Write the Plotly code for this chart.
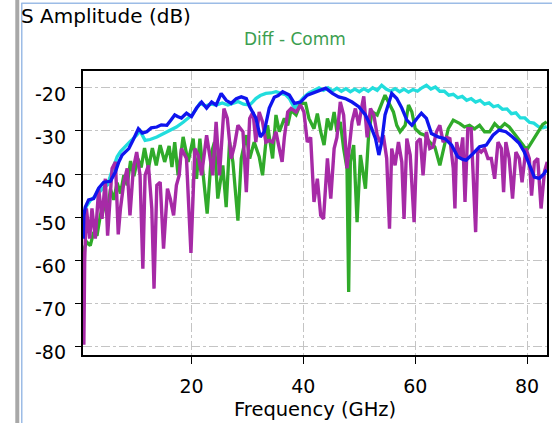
import plotly.graph_objects as go

# ---------------- data ----------------
cyan_f = [0.7, 1.2, 2.0, 3.0, 4.0, 5.0, 5.6, 6.2, 6.7, 7.3, 8.2, 9.0, 10.2, 10.8, 11.7, 12.6,
          13.8, 15.6, 17.3, 18.5, 20.0, 20.8, 21.5, 22.5, 23.5, 24.4, 25.5, 26.5, 27.3, 28.3,
          29.3, 30.4, 31.0, 31.5, 32.3, 33.3, 34.2, 35.1, 36.0, 36.8, 37.5, 38.4, 39.2, 40.0,
          41.0, 42.0, 42.8, 43.6, 44.4, 45.2, 46.0, 46.8, 47.6, 48.4, 49.2, 50.0, 50.8, 51.6,
          52.4, 53.2, 54.0, 54.8, 55.6, 56.4, 57.2, 58.0, 58.8, 59.6, 60.4, 61.2, 62.0, 62.8,
          63.6, 64.4, 65.2, 66.0, 66.8, 67.6, 68.4, 69.2, 70.0, 70.8, 71.6, 72.4, 73.2, 74.0,
          74.8, 75.6, 76.4, 77.2, 78.0, 78.8, 79.6, 80.4, 81.2, 82.0, 82.8, 83.5]
cyan_db = [-50, -47.5, -46, -45, -43.5, -42.5, -40, -37.5, -36, -34.8, -33.5, -32.5, -31, -30,
           -32.2, -32, -31.4, -30.2, -29.1, -28, -26.4, -25, -23.6, -24.2, -23.8, -24, -23.5,
           -24, -23.6, -23.2, -23.8, -24, -23.2, -22.5, -21.8, -21.3, -21.2, -20.9, -21.3,
           -21.6, -22.5, -24.7, -23.5, -22.3, -21.2, -20.5, -20.0, -20.6, -20.0, -20.7, -20.1,
           -20.8, -20.2, -20.9, -20.3, -20.9, -20.2, -20.8, -20.0, -20.6, -19.4, -20.3, -20.8,
           -20.2, -20.9, -20.3, -21.0, -20.4, -20.8, -20.0, -19.4, -20.3, -19.8, -20.8, -20.8,
           -21.7, -21.5, -22.3, -22.0, -22.9, -22.5, -23.3, -22.9, -23.8, -23.5, -24.4, -24.1,
           -25.0, -24.9, -26.0, -25.8, -27.0, -27.0, -28.0, -28.2, -29.0, -29.3, -29.0]

blue_f = [0.65, 0.75, 1.0, 1.6, 2.5, 3.4, 4.3, 5.5, 6.4, 7.0, 7.6, 8.8, 9.6, 10.5, 11.2, 12.0,
          12.8, 13.8, 14.6, 15.6, 16.3, 17.0, 17.6, 18.2, 19.1, 20.0, 20.9, 21.8, 22.7, 23.6,
          24.4, 25.3, 26.2, 27.1, 28.0, 28.9, 29.8, 30.4, 31.5, 32.3, 33.0, 33.9, 34.8, 35.5,
          36.3, 37.5, 38.4, 39.5, 40.7, 42.2, 44.0, 45.2, 46.3, 47.5, 48.7, 49.9, 51.1, 52.0,
          52.9, 53.5, 54.0, 54.6, 55.8, 56.7, 57.6, 58.5, 59.4, 60.3, 61.1, 62.0, 62.9, 64.1,
          65.3, 66.5, 67.6, 68.5, 69.1, 70.3, 71.5, 72.7, 73.9, 75.0, 76.2, 77.4, 78.6, 79.5,
          80.4, 81.3, 82.2, 83.0, 83.5]
blue_db = [-55, -49.6, -47.7, -46, -45.7, -43.3, -41.9, -41.7, -39.5, -37.2, -35.6, -34.1, -32,
           -29.5, -30.5, -30.2, -29.3, -29.1, -28.6, -28.7, -27.5, -26.3, -26.7, -27, -25.9,
           -26.7, -24.7, -23.3, -24.7, -23.3, -24, -21.3, -22.9, -23.6, -22.5, -22.1, -22.5,
           -24.4, -27, -31.4, -30.2, -24.7, -22.2, -21.8, -20.9, -21.7, -23.6, -23.3, -21.7,
           -20.9, -20.1, -21.3, -22.1, -22.5, -23.3, -24.4, -26.3, -28.7, -31.8, -35.6, -32.6,
           -26.3, -21.3, -22.5, -24.7, -27.5, -28.7, -27.1, -25.9, -27.1, -30.6, -31.4, -31.8,
           -33.3, -36, -36.6, -36.8, -35.3, -33.7, -33.3, -31, -29.8, -30.2, -31.4, -32.9,
           -34.9, -38, -40.7, -41, -40, -39]

green_f = [0.65, 0.9, 1.3, 1.9, 2.5, 3.1, 3.7, 4.3, 4.9, 5.5, 6.1, 6.7, 7.3, 7.9, 8.5, 9.1,
           9.7, 10.4, 11.0, 11.6, 12.3, 13.0, 13.7, 14.4, 15.2, 16.0, 16.5, 17.0, 17.6, 18.5,
           19.4, 20.3, 20.9, 21.5, 22.1, 22.8, 23.6, 24.1, 24.7, 25.6, 26.2, 26.8, 27.4, 28.3,
           28.9, 29.8, 30.4, 31.2, 32.1, 32.7, 33.6, 34.2, 34.5, 35.1, 35.7, 36.6, 37.2, 37.8,
           38.7, 39.5, 40.4, 41.0, 41.9, 42.5, 43.1, 43.7, 44.3, 44.9, 45.5, 46.0, 46.6, 47.2,
           47.8, 48.1, 48.4, 49.0, 49.6, 50.2, 50.8, 51.1, 51.7, 52.3, 53.2, 54.0, 54.6, 55.2,
           56.1, 56.7, 57.3, 58.2, 58.8, 59.4, 60.0, 60.9, 61.7, 62.6, 63.5, 64.4, 65.0, 65.9,
           66.8, 68.0, 68.8, 69.7, 70.6, 71.5, 72.4, 73.3, 74.2, 75.1, 76.0, 76.8, 77.7, 78.6,
           79.5, 80.1, 81.0, 81.9, 82.8, 83.5]
green_db = [-62, -57, -55.8, -56.6, -53.5, -54.3, -49.6, -46.5, -49.6, -43.5, -46, -42, -44.5,
            -40.3, -42.6, -37, -40.5, -36.4, -38.5, -34, -38.7, -34, -38, -33.3, -37.2, -33.5,
            -38.4, -32.6, -40.3, -31.4, -37.2, -31.8, -41.1, -31.8, -40.3, -49.2, -34.9, -32.6,
            -45.7, -38, -47.7, -32.6, -37.2, -50.8, -36.4, -31, -36.4, -32.6, -36, -40.3, -28.7,
            -33.3, -36.4, -26.3, -30.2, -27.1, -28.7, -25.2, -26.3, -23.6, -23.6, -27.1, -29.5,
            -26, -30.2, -33.3, -27.1, -29.8, -25.6, -30.2, -27.9, -34.1, -38.7, -67.4, -37.2,
            -33.3, -51.2, -35.6, -40.3, -43.4, -30.2, -25.6, -26.3, -23.6, -21.7, -23.3, -25.6,
            -28.7, -30.2, -28.7, -24, -25.6, -29.5, -30.6, -31, -32.6, -33.7, -38, -34.9, -29.5,
            -27.5, -28.3, -29.1, -28.7, -29.5, -28.7, -30.2, -30.2, -28.3, -29.5, -28.3, -29.1,
            -30.6, -32.2, -33.7, -34.1, -32.2, -30.2, -28.5, -27.9]

magenta_f = [0.65, 0.75, 0.9, 1.2, 1.8, 2.2, 2.8, 3.4, 4.0, 4.6, 5.0, 5.4, 5.8, 6.4, 6.9, 7.3,
             7.9, 8.5, 9.0, 9.6, 10.2, 10.8, 11.3, 11.7, 12.3, 12.9, 13.3, 13.8, 14.4, 15.0,
             15.7, 16.2, 16.8, 17.3, 17.8, 18.2, 19.1, 19.9, 20.6, 21.2, 21.8, 22.7, 23.3, 23.8,
             24.4, 25.0, 25.8, 26.4, 27.1, 27.7, 28.3, 29.2, 29.8, 30.4, 31.0, 31.5, 32.1, 32.7,
             33.3, 33.9, 34.5, 35.1, 35.7, 36.2, 36.6, 37.2, 37.8, 38.7, 39.5, 40.1, 40.7, 41.3,
             41.9, 42.5, 43.1, 43.6, 44.3, 44.9, 45.5, 46.0, 46.6, 47.2, 47.8, 48.7, 49.3, 49.9,
             50.5, 50.8, 51.4, 52.0, 52.6, 53.2, 53.7, 54.3, 54.9, 55.4, 55.8, 56.4, 57.0, 57.6,
             58.0, 58.5, 59.1, 59.8, 60.3, 60.9, 61.4, 62.0, 62.6, 63.2, 63.8, 64.4, 65.0, 65.6,
             66.2, 66.8, 67.1, 67.4, 68.0, 68.5, 68.9, 69.4, 70.0, 70.4, 70.8, 71.2, 71.8, 72.4,
             73.0, 73.6, 74.2, 74.8, 75.4, 75.8, 76.2, 76.8, 77.4, 78.0, 78.6, 79.1, 79.8, 80.4,
             80.8, 81.3, 81.9, 82.5, 83.1, 83.6]
magenta_db = [-58, -79.6, -60, -48, -55, -48, -55, -43.4, -50.4, -41.1, -54.3, -45, -38.7, -37.2,
              -54, -48, -41.9, -38.7, -49.6, -38.7, -34.9, -40.3, -62, -40.3, -38, -48, -66.6,
              -42.6, -41.9, -57.3, -43.4, -45.7, -49.6, -42.6, -40.3, -34.1, -36.4, -58.3, -34.1,
              -35.6, -40.3, -31, -36.4, -40.3, -27.9, -40.3, -24.8, -27.1, -36.4, -33.3, -28.7,
              -30.2, -44.2, -27.1, -25.6, -32.6, -25.6, -27.9, -32.6, -32.2, -32.6, -30.2, -34.1,
              -37.2, -31.5, -25.6, -24.8, -25.6, -24, -25.6, -32.6, -31.5, -46.5, -41.1, -49.6,
              -50.4, -36.4, -45.7, -34.1, -31.5, -23.3, -26.3, -38.7, -27.9, -24.8, -28.7, -24,
              -22, -31.5, -24.8, -26.3, -31, -32.6, -31, -36.4, -52.7, -34.1, -38, -32.6, -37.2,
              -50.4, -31.8, -35.6, -51.2, -32.6, -31.8, -40.3, -30.2, -34.1, -33.7, -30.2, -28.7,
              -32.6, -31.5, -31.8, -38.7, -48, -32.6, -36.4, -31.5, -46.5, -29.5, -29.5, -40.3,
              -53.5, -34.1, -34.9, -34.1, -36.4, -36.4, -41.1, -32.6, -34.1, -44.2, -32.6, -36.4,
              -45.7, -34.9, -36.4, -41.9, -34.1, -36.4, -45, -37.2, -36.4, -48, -39.5, -37.2]

x_ticks = [20, 40, 60, 80]
y_ticks = [-80, -70, -60, -50, -40, -30, -20]
y_tick_text = ["-80", "-70", "-60", "-50", "-40", "-30", "-20"]
x_range = [0.6, 83.56]
y_range = [-82.0, -16.1]

# ---------------- figure ----------------
W, H = 554, 423
ML, MR, MT, MB = 83, 5, 71, 68
PW, PH = W - ML - MR, H - MT - MB


def px(x):
    return (x - ML) / PW


def py(y):
    return (H - MB - y) / PH


FONT = "DejaVu Sans"

fig = go.Figure()
series = [
    (cyan_f, cyan_db, "#22DDDD", 3.3),
    (green_f, green_db, "#30AA2A", 3.3),
    (magenta_f, magenta_db, "#A62AA6", 3.4),
    (blue_f, blue_db, "#0F14EE", 3.3),
]
for f, d, c, w in series:
    fig.add_trace(go.Scatter(x=f, y=d, mode="lines",
                             line=dict(color=c, width=w), showlegend=False,
                             hoverinfo="skip"))

grid = dict(showgrid=True, gridcolor="#C4C4C4", gridwidth=1, griddash="dashdot",
            showline=True, linecolor="black", linewidth=1.5, mirror=True,
            ticks="outside", tickcolor="black", zeroline=False,
            tickfont=dict(family=FONT, size=19, color="black"))

fig.update_xaxes(range=x_range, tickvals=x_ticks, ticklen=7, tickwidth=1.2,
                 ticklabelstandoff=6, **grid)
fig.update_yaxes(range=y_range, tickvals=y_ticks, ticklen=6, tickwidth=1.2,
                 showticklabels=False, **grid)

shapes = [
    # window frame decorations
    dict(type="rect", xref="paper", yref="paper", x0=px(15), x1=px(19), y0=py(423), y1=py(0),
         fillcolor="#A8A8A8", line=dict(width=0), layer="above"),
    dict(type="line", xref="paper", yref="paper", x0=px(21.5), x1=px(21.5), y0=py(423), y1=py(3),
         line=dict(color="#9CBCE6", width=1.5), layer="above"),
    dict(type="line", xref="paper", yref="paper", x0=px(21), x1=px(554), y0=py(3.3), y1=py(3.3),
         line=dict(color="#9CBCE6", width=1.5), layer="above"),
]

annotations = [
    dict(text="S Amplitude (dB)", xref="paper", yref="paper", x=px(18.5), y=py(16.5),
         xanchor="left", yanchor="middle", showarrow=False,
         font=dict(family=FONT, size=20, color="black")),
    dict(text="Diff - Comm", xref="paper", yref="paper", x=px(296), y=py(39.5),
         xanchor="center", yanchor="middle", showarrow=False,
         font=dict(family=FONT, size=17, color="#3C9E50")),
    dict(text="Frequency (GHz)", xref="paper", yref="paper", x=px(316), y=py(409),
         xanchor="center", yanchor="middle", showarrow=False, borderpad=0,
         font=dict(family=FONT, size=19.5, color="black")),
]
# y tick labels (hyphen-minus, sitting just below each tick as in the reference)
for v, t in zip(y_ticks, y_tick_text):
    annotations.append(dict(text=t, xref="paper", yref="y", x=px(68), y=v,
                            xanchor="right", yanchor="middle", yshift=-6,
                            showarrow=False,
                            font=dict(family=FONT, size=19, color="black")))

fig.update_layout(width=W, height=H, margin=dict(l=ML, r=MR, t=MT, b=MB, pad=0),
                  plot_bgcolor="white", paper_bgcolor="white",
                  shapes=shapes, annotations=annotations, showlegend=False)

fig.write_html("out.html")
